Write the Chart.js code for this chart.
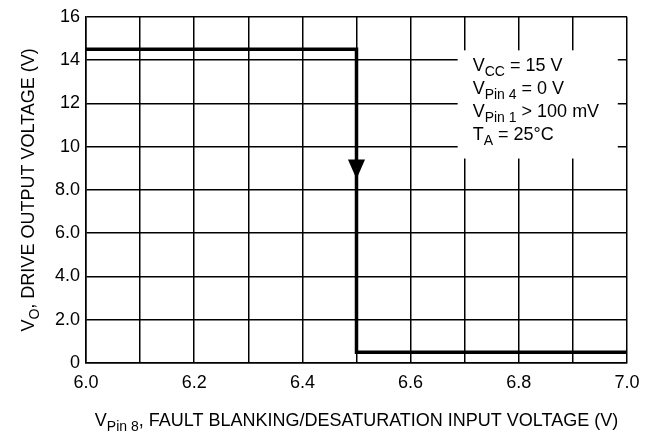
<!DOCTYPE html>
<html>
<head>
<meta charset="utf-8">
<script src="https://cdn.jsdelivr.net/npm/chart.js@4.4.1/dist/chart.umd.min.js"></script>
<style>
  html, body { margin: 0; padding: 0; background: #fff; }
  #wrap { width: 652px; height: 435px; }
</style>
</head>
<body>
<div id="wrap"><canvas id="grafico"></canvas></div>
<script>
  // ---------- Dados ----------
  var xVpin8 = [6.0, 6.5, 6.5, 7.0];
  var yVo = [14.5, 14.5, 0.5, 0.5];
  var xTickLabels = { "6.0": "6.0", "6.2": "6.2", "6.4": "6.4", "6.6": "6.6", "6.8": "6.8", "7.0": "7.0" };
  var yTickLabels = ["0", "2.0", "4.0", "6.0", "8.0", "10", "12", "14", "16"];
  // seta na descida: x, ponta, base (V)
  var seta = [6.5, 8.5, 9.4];
  // condições de teste [texto, subscrito, resto]
  var condicoes = [
    ["V", "CC", " = 15 V"],
    ["V", "Pin 4", " = 0 V"],
    ["V", "Pin 1", " > 100 mV"],
    ["T", "A", " = 25\u00B0C"]
  ];

  var FONTE = "'Liberation Sans Narrow', 'Liberation Sans', Arial, sans-serif";
  var PRETO = "#000";

  // texto com subscrito: partes = [base, sub, resto]
  function textoSub(ctx, partes, x, y, tam, tamSub, desc) {
    ctx.font = tam + "px " + FONTE;
    ctx.fillText(partes[0], x, y);
    x += ctx.measureText(partes[0]).width;
    ctx.font = tamSub + "px " + FONTE;
    ctx.fillText(partes[1], x, y + desc);
    x += ctx.measureText(partes[1]).width;
    ctx.font = tam + "px " + FONTE;
    ctx.fillText(partes[2], x, y);
  }
  function larguraSub(ctx, partes, tam, tamSub) {
    ctx.font = tam + "px " + FONTE;
    var w = ctx.measureText(partes[0]).width + ctx.measureText(partes[2]).width;
    ctx.font = tamSub + "px " + FONTE;
    return w + ctx.measureText(partes[1]).width;
  }

  var extras = {
    id: "extras",
    beforeDatasetsDraw: function (chart) {
      var ctx = chart.ctx, xs = chart.scales.x, ys = chart.scales.y;
      // caixa branca das condições
      var x0 = xs.getPixelForValue(6.687), x1 = xs.getPixelForValue(6.983);
      var y0 = ys.getPixelForValue(14.45), y1 = ys.getPixelForValue(9.45);
      ctx.save();
      ctx.fillStyle = "#fff";
      ctx.fillRect(x0, y0, x1 - x0, y1 - y0);
      ctx.fillStyle = PRETO;
      ctx.textBaseline = "alphabetic";
      ctx.textAlign = "left";
      for (var i = 0; i < condicoes.length; i++) {
        textoSub(ctx, condicoes[i], x0 + 15, y0 + 21 + i * 23, 18, 14, 5);
      }
      ctx.restore();
    },
    afterDatasetsDraw: function (chart) {
      var ctx = chart.ctx, xs = chart.scales.x, ys = chart.scales.y;
      var px = xs.getPixelForValue(seta[0]);
      var pTip = ys.getPixelForValue(seta[1]), pBase = ys.getPixelForValue(seta[2]);
      ctx.save();
      ctx.fillStyle = PRETO;
      ctx.beginPath();
      ctx.moveTo(px - 8.5, pBase);
      ctx.lineTo(px + 8.5, pBase);
      ctx.lineTo(px, pTip);
      ctx.closePath();
      ctx.fill();
      ctx.restore();
    },
    afterDraw: function (chart) {
      var ctx = chart.ctx, a = chart.chartArea;
      ctx.save();
      ctx.fillStyle = PRETO;
      ctx.textBaseline = "alphabetic";
      ctx.textAlign = "left";
      // título do eixo x
      var tx = ["V", "Pin 8", ", FAULT BLANKING/DESATURATION INPUT VOLTAGE (V)"];
      var w = larguraSub(ctx, tx, 18, 14);
      textoSub(ctx, tx, (a.left + a.right) / 2 - w / 2, 426, 18, 14, 5);
      // título do eixo y (rotacionado)
      var ty = ["V", "O", ", DRIVE OUTPUT VOLTAGE (V)"];
      var wy = larguraSub(ctx, ty, 18, 14);
      ctx.translate(34, (a.top + a.bottom) / 2 + wy / 2);
      ctx.rotate(-Math.PI / 2);
      textoSub(ctx, ty, 0, 0, 18, 14, 5);
      ctx.restore();
    }
  };

  var pontos = xVpin8.map(function (x, i) { return { x: x, y: yVo[i] }; });

  new Chart(document.getElementById("grafico"), {
    type: "line",
    data: {
      datasets: [{
        data: pontos,
        borderColor: PRETO,
        borderWidth: 3.5,
        pointRadius: 0,
        tension: 0,
        fill: false
      }]
    },
    options: {
      responsive: true,
      maintainAspectRatio: false,
      animation: false,
      layout: { padding: { left: 0, right: 25, top: 14, bottom: 0 } },
      plugins: { legend: { display: false }, tooltip: { enabled: false } },
      scales: {
        x: {
          type: "linear",
          min: 6.0, max: 7.0,
          afterFit: function (s) { s.height = 72; },
          border: { color: PRETO, width: 1.5 },
          grid: { color: PRETO, lineWidth: 1.5, drawTicks: false },
          ticks: {
            stepSize: 0.1,
            padding: 9,
            color: PRETO,
            font: { family: FONTE, size: 18 },
            maxRotation: 0,
            autoSkip: false,
            callback: function (v) { return xTickLabels[v.toFixed(1)] || ""; }
          }
        },
        y: {
          min: 0, max: 16,
          afterFit: function (s) { s.width = 86; },
          border: { color: PRETO, width: 1.5 },
          grid: { color: PRETO, lineWidth: 1.5, drawTicks: false },
          ticks: {
            stepSize: 2,
            padding: 6,
            color: PRETO,
            font: { family: FONTE, size: 18 },
            callback: function (v) { return yTickLabels[Math.round(v / 2)]; }
          }
        }
      }
    },
    plugins: [extras]
  });
</script>
</body>
</html>
